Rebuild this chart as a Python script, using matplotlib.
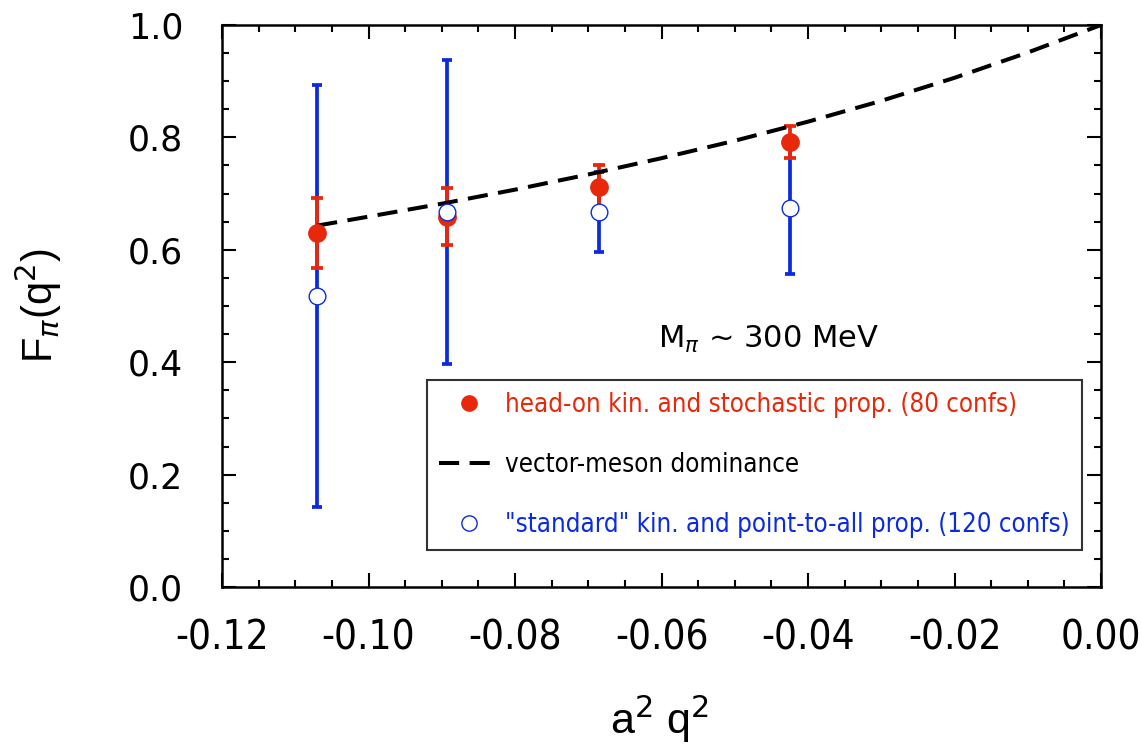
import matplotlib
matplotlib.use('Agg')
import matplotlib.pyplot as plt
from matplotlib.ticker import MultipleLocator, FormatStrFormatter

# データ
x_pts = [-0.1070, -0.0893, -0.0685, -0.0425]
red_y = [0.630, 0.659, 0.711, 0.792]
red_err = [0.062, 0.051, 0.040, 0.029]
blue_y = [0.518, 0.667, 0.667, 0.674]
blue_err = [0.375, 0.271, 0.071, 0.117]

vmd_x = [-0.107, -0.100, -0.090, -0.080, -0.070, -0.060, -0.050,
         -0.040, -0.030, -0.020, -0.010, 0.000]
vmd_y = [0.643, 0.659, 0.682, 0.707, 0.734, 0.763, 0.794,
         0.828, 0.865, 0.906, 0.951, 1.000]

red_label = 'head-on kin. and stochastic prop. (80 confs)'
vmd_label = 'vector-meson dominance'
blue_label = '"standard" kin. and point-to-all prop. (120 confs)'

RED = '#e8280a'
BLUE = '#0b2be0'

fig = plt.figure(figsize=(11.41, 7.52), dpi=100, facecolor='white')
ax = fig.add_axes([0.1946, 0.2194, 0.7704, 0.7474])

# 誤差棒
ax.errorbar(x_pts, blue_y, yerr=blue_err, fmt='none', ecolor=BLUE,
            elinewidth=2.7, capsize=3.8, capthick=2.7, zorder=2)
ax.errorbar(x_pts, red_y, yerr=red_err, fmt='none', ecolor=RED,
            elinewidth=2.7, capsize=4.3, capthick=2.7, zorder=3)

# VMD 曲線
vmd_line, = ax.plot(vmd_x, vmd_y, color='black', lw=2.9, ls=(0, (5, 2.6)),
                    zorder=4, label=vmd_label)

# マーカー
red_pts, = ax.plot(x_pts, red_y, 'o', ms=12.5, color=RED, mec=RED,
                   zorder=5, label=red_label)
blue_pts, = ax.plot(x_pts, blue_y, 'o', ms=12, mfc='white', mec=BLUE,
                    mew=1.0, zorder=6, label=blue_label)

ax.set_xlim(-0.12, 0.0)
ax.set_ylim(0.0, 1.0)
ax.xaxis.set_major_locator(MultipleLocator(0.02))
ax.xaxis.set_minor_locator(MultipleLocator(0.005))
ax.yaxis.set_major_locator(MultipleLocator(0.2))
ax.yaxis.set_minor_locator(MultipleLocator(0.05))
ax.xaxis.set_major_formatter(FormatStrFormatter('%.2f'))
ax.yaxis.set_major_formatter(FormatStrFormatter('%.1f'))

ax.tick_params(which='both', direction='in', top=True, right=True, width=1.5)
ax.tick_params(which='major', length=10)
ax.tick_params(which='minor', length=5)
ax.tick_params(axis='y', which='major', pad=28, labelsize=25)
ax.tick_params(axis='x', which='major', pad=23)
for lab in ax.get_xticklabels():
    lab.set_family('DejaVu Sans')
    lab.set_stretch('condensed')
    lab.set_fontsize(29)
for sp in ax.spines.values():
    sp.set_linewidth(1.8)

ax.set_xlabel('a$^2$ q$^2$', fontsize=31, family='Liberation Sans', va='top')
ax.xaxis.set_label_coords(0.498, -0.19)
ax.set_ylabel(r'F$_{\pi}$(q$^2$)', fontsize=30, family='Liberation Sans')
ax.yaxis.set_label_coords(-0.18, 0.5)

ax.text(-0.0605, 0.44, r'M$_{\pi}$ ~ 300 MeV', fontsize=22,
        family='DejaVu Sans', ha='left', va='center')

leg = ax.legend(handles=[red_pts, vmd_line, blue_pts],
                loc='lower right', bbox_to_anchor=(0.978, 0.066),
                frameon=True, fancybox=False,
                edgecolor='#333333', framealpha=1, borderpad=0.45,
                labelspacing=1.33, handlelength=2.4, handletextpad=0.2,
                borderaxespad=0,
                prop={'family': 'DejaVu Sans', 'stretch': 'condensed', 'size': 18.5})
leg.get_frame().set_linewidth(1.5)
for txt, c in zip(leg.get_texts(), [RED, 'black', BLUE]):
    txt.set_color(c)
leg.legend_handles[0].set_markersize(11)
leg.legend_handles[2].set_markersize(11)

fig.savefig('out.png', dpi=100, facecolor='white')
